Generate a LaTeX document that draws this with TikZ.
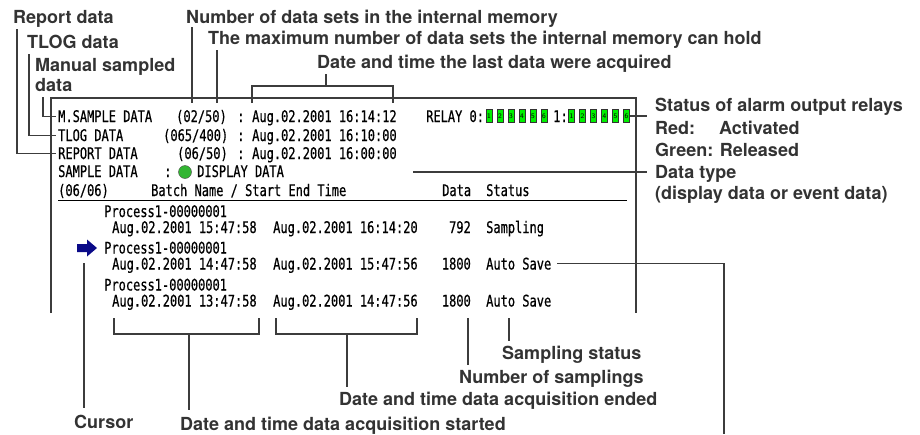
\documentclass[tikz,border=0pt]{standalone}
\usepackage{fontspec}
\setmainfont{TeX Gyre Heros}
\newfontfamily\scrfont[FakeStretch=0.75,FakeBold=0.6]{DejaVu Sans Mono}
\definecolor{labelgray}{HTML}{333333}
\definecolor{linegray}{HTML}{3C3C3C}
\definecolor{relaygreen}{HTML}{00F000}
\definecolor{dispgreen}{HTML}{33B533}
\definecolor{cursorblue}{HTML}{0A0A88}
\tikzset{
  lbl/.style={anchor=base west, inner sep=0pt, text=labelgray, font=\bfseries\fontsize{18}{21}\selectfont},
  scr/.style={anchor=base west, inner sep=0pt, font=\scrfont\fontsize{16}{18}\selectfont},
  lead/.style={draw=linegray, line width=1.1pt},
  relaybox/.style={draw=black!80, fill=relaygreen, line width=0.4pt, minimum width=6pt, minimum height=13pt, inner sep=0pt, font=\sffamily\fontsize{7}{7}\selectfont},
}
\begin{document}
\begin{tikzpicture}[x=1pt,y=-1pt]
  \useasboundingbox (0,0) rectangle (920,434);

  % labels round the screen
  \node[lbl] (lblRep) at (13,23) {Report data};
  \node[lbl] (lblTlog) at (27,48) {TLOG data};
  \node[lbl] (lblManA) at (35,71) {Manual sampled};
  \node[lbl] (lblManB) at (35,91) {data};
  \node[lbl] (lblNum) at (186,23) {Number of data sets in the internal memory};
  \node[lbl] (lblMax) at (208,44) {The maximum number of data sets the internal memory can hold};
  \node[lbl] (lblLast) at (317,68) {Date and time the last data were acquired};
  \node[lbl] (lblRelay) at (655,111) {Status of alarm output relays};
  \node[lbl] (lblRed) at (655,134) {\makebox[64pt][l]{Red:}Activated};
  \node[lbl] (lblGreen) at (655,156) {Green: Released};
  \node[lbl] (lblType) at (655,178) {Data type};
  \node[lbl] (lblTypeB) at (655,199) {(display data or event data)};
  \node[lbl] (lblStat) at (502,359) {Sampling status};
  \node[lbl] (lblNSam) at (459,383) {Number of samplings};
  \node[lbl] (lblEnd) at (339,405) {Date and time data acquisition ended};
  \node[lbl] (lblStart) at (180,430) {Date and time data acquisition started};
  \node[lbl] (lblCur) at (74,428) {Cursor};

  % screen
  \draw[lead] (51,313) -- (51,98) -- (636,98) -- (636,313);
  \node[scr] (rowMan) at (58,122) {M.SAMPLE DATA};
  \node[scr] (cntMan) at (176,122) {(02/50)};
  \node[scr] at (237,122) {:};
  \node[scr] (timMan) at (252,122) {Aug.02.2001 16:14:12};
  \node[scr] (rowTlog) at (58,141) {TLOG DATA};
  \node[scr] (cntTlog) at (163,141) {(065/400)};
  \node[scr] at (237,141) {:};
  \node[scr] (timTlog) at (252,141) {Aug.02.2001 16:10:00};
  \node[scr] (rowRep) at (58,159) {REPORT DATA};
  \node[scr] (cntRep) at (177,159) {(06/50)};
  \node[scr] at (237,159) {:};
  \node[scr] (timRep) at (252,159) {Aug.02.2001 16:00:00};
  \node[scr] (rowSmp) at (58,177) {SAMPLE DATA};
  \node[scr] at (164,177) {:};
  \node[circle, fill=dispgreen, draw=black!70, line width=0.4pt, minimum size=13pt, inner sep=0pt] (dispdot) at (185,172) {};
  \node[scr] (dispTxt) at (197,177) {DISPLAY DATA};
  \node[scr] (hdNum) at (58,196) {(06/06)};
  \node[scr] (hdBatch) at (151,196) {Batch Name / Start End Time};
  \node[scr] (hdData) at (442,196) {Data};
  \node[scr] (hdStat) at (486,196) {Status};
  \draw[line width=1pt] (58,200) -- (627,200);

  % relays
  \node[scr] (relay) at (426,122) {RELAY 0:};
  \node[scr] (relayB) at (553,122) {1:};
  \foreach \i in {1,...,6} {
    \node[relaybox] (ra\i) at ({478+11*\i},116) {\i};
    \node[relaybox] (rb\i) at ({560.5+11*\i},116) {\i};
  }

  % batch list
  \node[scr] (pr1) at (104,217) {Process1-00000001};
  \node[scr] (ds1) at (112,233) {Aug.02.2001 15:47:58};
  \node[scr] (de1) at (273,233) {Aug.02.2001 16:14:20};
  \node[scr, anchor=base east] (nd1) at (471,233) {792};
  \node[scr] (st1) at (486,233) {Sampling};
  \node[scr] (pr2) at (104,253.5) {Process1-00000001};
  \node[scr] (ds2) at (112,269.5) {Aug.02.2001 14:47:58};
  \node[scr] (de2) at (273,269.5) {Aug.02.2001 15:47:56};
  \node[scr, anchor=base east] (nd2) at (471,269.5) {1800};
  \node[scr] (st2) at (486,269.5) {Auto Save};
  \node[scr] (pr3) at (104,290.5) {Process1-00000001};
  \node[scr] (ds3) at (112,306.5) {Aug.02.2001 13:47:58};
  \node[scr] (de3) at (273,306.5) {Aug.02.2001 14:47:56};
  \node[scr, anchor=base east] (nd3) at (471,306.5) {1800};
  \node[scr] (st3) at (486,306.5) {Auto Save};

  % cursor
  \fill[cursorblue] (77,244) -- (87,244) -- (87,239.5) -- (97,248) -- (87,256.5) -- (87,252) -- (77,252) -- cycle;

  % leader points
  \coordinate (cRep) at (17,29);
  \coordinate (cTlog) at (29,54);
  \coordinate (cMan) at (43,97);
  \coordinate (cNum) at (192,103);
  \coordinate (cMax) at (217,103);
  \coordinate (lastL) at (252,103);
  \coordinate (lastM) at (326,86);
  \coordinate (lastR) at (393,103);
  \coordinate (cRelay) at (647,116);
  \coordinate (cTypeA) at (413,172);
  \coordinate (cTypeB) at (647,172);
  \coordinate (cAuto) at (724,266);
  \coordinate (cAutoEnd) at (724,434);
  \coordinate (cArrow) at (84,263);
  \coordinate (bsL) at (114,318);
  \coordinate (bsM) at (189,334);
  \coordinate (bsR) at (259,318);
  \coordinate (beL) at (276,318);
  \coordinate (beM) at (347,334);
  \coordinate (beR) at (417,318);
  \coordinate (cNSam) at (468,318);
  \coordinate (cStat) at (509,318);

  % leaders
  \draw[lead] (cRep) |- ([xshift=-2pt]rowRep.west);
  \draw[lead] (cTlog) |- ([xshift=-2pt]rowTlog.west);
  \draw[lead] (cMan) |- ([xshift=-2pt]rowMan.west);
  \draw[lead] (lblNum.south -| cNum) -- (cNum);
  \draw[lead] ([yshift=-2pt]lblMax.south -| cMax) -- (cMax);
  \draw[lead] (lastL) |- (lastM) -| (lastR);
  \draw[lead] (lastM) -- ([yshift=-2pt]lblLast.south -| lastM);
  \draw[lead] (rb6.east) -- (cRelay);
  \draw[lead] (cTypeA) -- (cTypeB);
  \draw[lead] ([xshift=6pt]st2.east) -- (st2.east -| cAuto) -- (cAutoEnd);
  \draw[lead] (cArrow) -- ([yshift=6pt]lblCur.north -| cArrow);
  \draw[lead] (bsL) |- (bsM) -| (bsR);
  \draw[lead] (bsM) -- ([yshift=6pt]lblStart.north -| bsM);
  \draw[lead] (beL) |- (beM) -| (beR);
  \draw[lead] (beM) -- ([yshift=4pt]lblEnd.north -| beM);
  \draw[lead] (cNSam) -- ([yshift=4pt]lblNSam.north -| cNSam);
  \draw[lead] (cStat) -- ([yshift=4pt]lblStat.north -| cStat);
\end{tikzpicture}
\end{document}
